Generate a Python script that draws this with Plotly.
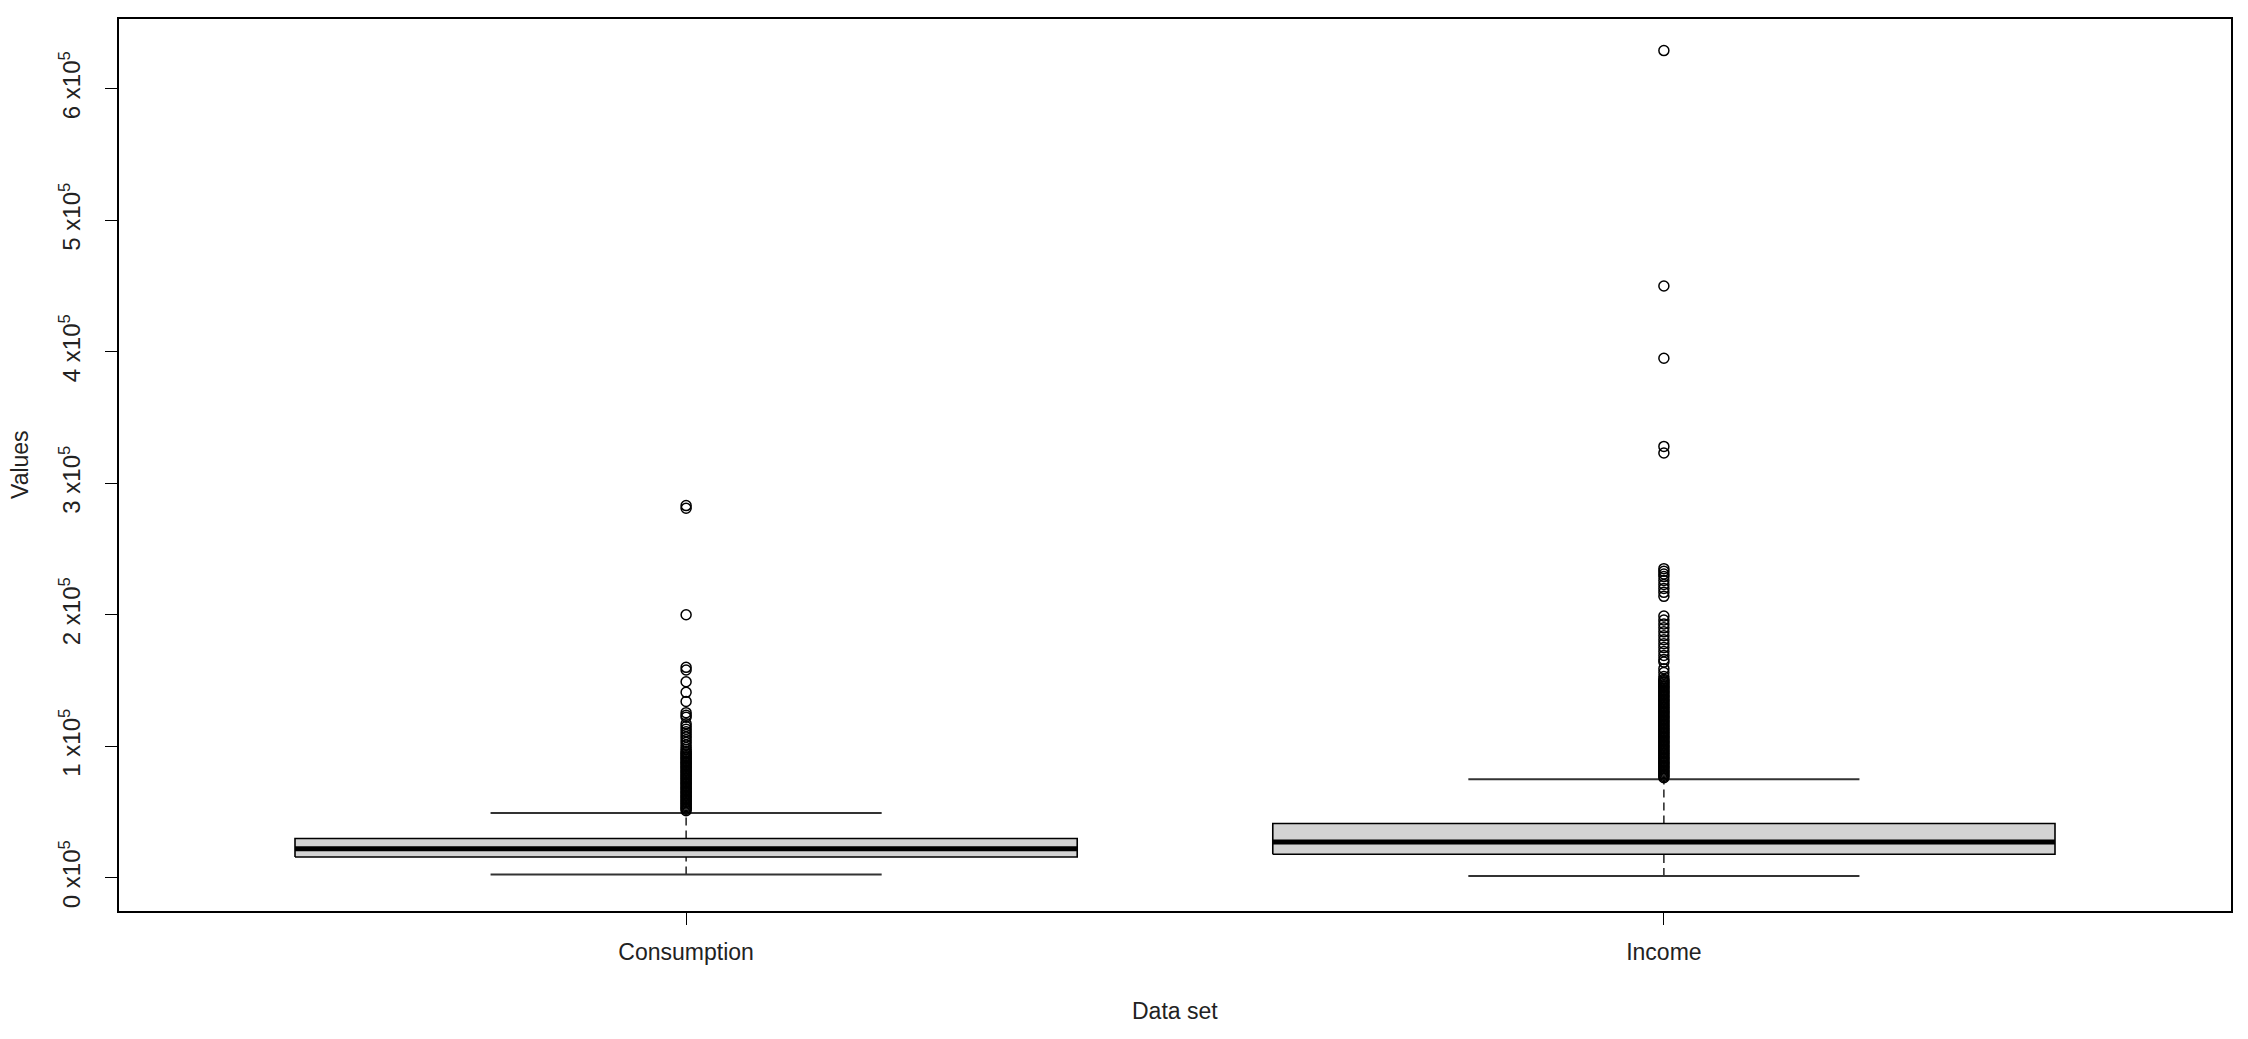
import plotly.graph_objects as go

categories = ["Consumption", "Income"]

# box statistics
lower_whisker = [2400, 1300]
q1 = [15750, 17800]
median = [22000, 27200]
q3 = [29800, 41200]
upper_whisker = [49200, 74900]

consumption_outliers = [
    283000, 281000, 200000, 160000, 158000, 149000, 141000, 134000,
    125500, 123500, 122000, 117000, 115000, 113000, 111000, 109000,
    107000, 105000, 103000, 101000, 99000, 97500, 96000,
    95000, 94000, 93000, 92000, 91000, 90000, 89000, 88000, 87000,
    86000, 85000, 84000, 83000, 82000, 81000, 80000, 79000, 78000,
    77000, 76000, 75000, 74000, 73000, 72000, 71000, 70000, 69000,
    68000, 67000, 66000, 65000, 64000, 63000, 62000, 61000, 60000,
    59000, 58000, 57000, 56000, 55000, 54000, 53000, 52000, 51000,
]

income_outliers = [
    629000, 450000, 395000, 328000, 323000,
    235000, 233000, 231000, 229000, 226000, 223000, 220000, 217000, 214000,
    199000, 196000, 193000, 190000, 187000, 184000, 181000, 178000,
    175000, 172000, 169000, 166000, 164000,
    159000, 156000, 153000, 151000,
    150000, 149000, 148000, 147000, 146000, 145000, 144000, 143000,
    142000, 141000, 140000, 139000, 138000, 137000, 136000, 135000,
    134000, 133000, 132000, 131000, 130000, 129000, 128000, 127000,
    126000, 125000, 124000, 123000, 122000, 121000, 120000, 119000,
    118000, 117000, 116000, 115000, 114000, 113000, 112000, 111000,
    110000, 109000, 108000, 107000, 106000, 105000, 104000, 103000,
    102000, 101000, 100000, 99000, 98000, 97000, 96000, 95000, 94000,
    93000, 92000, 91000, 90000, 89000, 88000, 87000, 86000, 85000,
    84000, 83000, 82000, 81000, 80000, 79000, 78000, 77000, 76000,
]

outliers = [consumption_outliers, income_outliers]

y_ticks = [0, 100000, 200000, 300000, 400000, 500000, 600000]
y_tick_labels = ["%d x10<sup>5</sup>" % (v // 100000) for v in y_ticks]

BOX_HALF = 0.4
STAPLE_HALF = 0.2
FONT = "Liberation Sans, Arial, sans-serif"
TEXT_COLOR = "#222222"

fig = go.Figure()

for i, name in enumerate(categories):
    pos = i + 1

    # dashed whiskers from the box to the staples
    fig.add_trace(go.Scatter(
        x=[pos, pos, None, pos, pos],
        y=[q3[i], upper_whisker[i], None, lower_whisker[i], q1[i]],
        mode="lines", line=dict(color="black", width=1.3, dash="8px,5px"),
        hoverinfo="skip", showlegend=False,
    ))
    # staples
    fig.add_trace(go.Scatter(
        x=[pos - STAPLE_HALF, pos + STAPLE_HALF, None, pos - STAPLE_HALF, pos + STAPLE_HALF],
        y=[upper_whisker[i], upper_whisker[i], None, lower_whisker[i], lower_whisker[i]],
        mode="lines", line=dict(color="#333333", width=2),
        hoverinfo="skip", showlegend=False,
    ))
    # box
    fig.add_trace(go.Scatter(
        x=[pos - BOX_HALF, pos + BOX_HALF, pos + BOX_HALF, pos - BOX_HALF, pos - BOX_HALF],
        y=[q1[i], q1[i], q3[i], q3[i], q1[i]],
        mode="lines", fill="toself", fillcolor="#D3D3D3",
        line=dict(color="black", width=1.6),
        hoverinfo="skip", showlegend=False,
    ))
    # median
    fig.add_trace(go.Scatter(
        x=[pos - BOX_HALF, pos + BOX_HALF],
        y=[median[i], median[i]],
        mode="lines", line=dict(color="black", width=5),
        hoverinfo="skip", showlegend=False,
    ))
    # outliers
    fig.add_trace(go.Scatter(
        x=[pos] * len(outliers[i]),
        y=outliers[i],
        mode="markers",
        marker=dict(symbol="circle-open", size=10, color="black", line=dict(width=1.5)),
        name=name, showlegend=False,
    ))

# the page body has an 8px margin, so the figure is sized to fit inside it
fig.update_layout(
    width=2232, height=1023,
    margin=dict(l=111, r=7, t=11, b=120),
    plot_bgcolor="white", paper_bgcolor="white",
    font=dict(family=FONT, size=23, color=TEXT_COLOR),
    showlegend=False,
)

fig.update_xaxes(
    range=[0.42, 2.58],
    tickmode="array", tickvals=[1, 2], ticktext=categories,
    ticks="outside", ticklen=12, tickcolor="black", tickwidth=1,
    tickfont=dict(size=23), ticklabelstandoff=8,
    showline=True, linecolor="black", linewidth=1.5, mirror=True,
    showgrid=False, zeroline=False,
)

fig.update_yaxes(
    range=[-25300, 653000],
    tickmode="array", tickvals=y_ticks, ticktext=y_tick_labels,
    tickangle=-90, ticklabelstandoff=16,
    ticks="outside", ticklen=12, tickcolor="black", tickwidth=1,
    tickfont=dict(size=24),
    showline=True, linecolor="black", linewidth=1.5, mirror=True,
    showgrid=False, zeroline=False,
)

fig.add_annotation(
    text="Values", textangle=-90,
    xref="paper", yref="paper", x=0, y=0.5,
    xanchor="center", yanchor="middle", xshift=-99,
    showarrow=False, font=dict(size=23, color=TEXT_COLOR),
)
fig.add_annotation(
    text="Data set",
    xref="paper", yref="paper", x=0.5, y=0,
    xanchor="center", yanchor="middle", yshift=-100,
    showarrow=False, font=dict(size=23, color=TEXT_COLOR),
)

fig.write_html("out.html")
